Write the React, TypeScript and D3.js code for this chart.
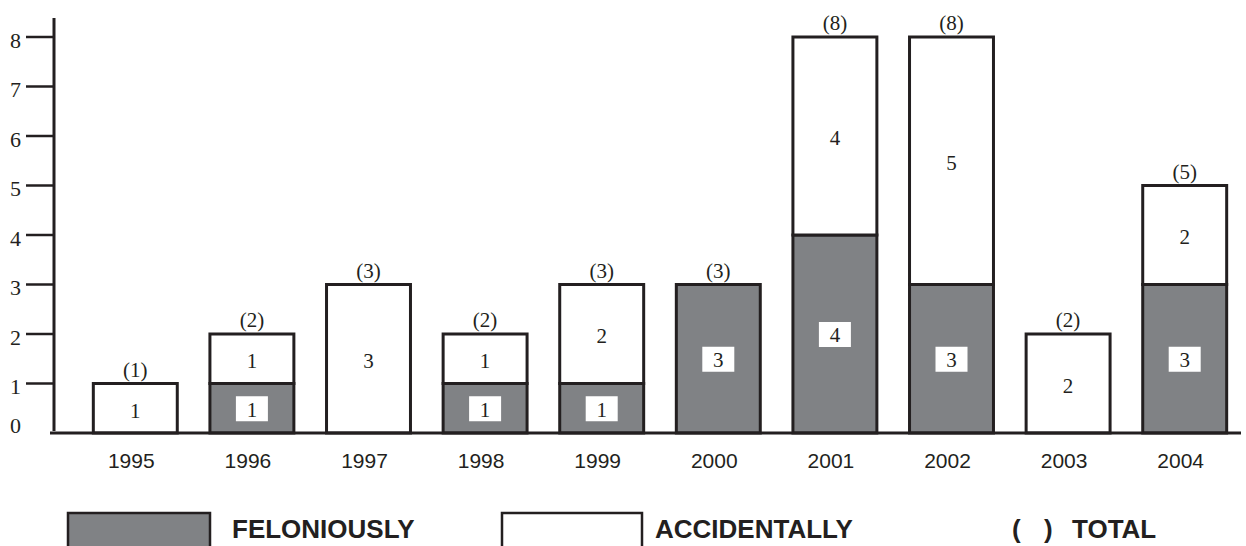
import React from "react";
import * as d3 from "d3";

const years = ["1995", "1996", "1997", "1998", "1999", "2000", "2001", "2002", "2003", "2004"];
const felonious = [0, 1, 0, 1, 1, 3, 4, 3, 0, 3];
const accidental = [1, 1, 3, 1, 2, 0, 4, 5, 2, 2];
const yTicks = [1, 2, 3, 4, 5, 6, 7, 8];

const W = 1246;
const H = 546;
const INK = "#231f20";
const GREY = "#808285";
const SERIF = "'Liberation Serif', 'Times New Roman', serif";
const SANS = "'Liberation Sans', Arial, sans-serif";

const App: React.FC = () => {
  const x = d3.scaleBand<string>().domain(years).range([77, 1243]).paddingInner(0.28).paddingOuter(0.14);
  const y = d3.scaleLinear().domain([0, 8]).range([433, 37]);
  const bw = x.bandwidth();

  return (
    <svg width={W} height={H} style={{ position: "absolute", left: 0, top: 0, background: "#fff" }}>
      {/* y axis */}
      <line x1={54} x2={54} y1={18} y2={431} stroke={INK} strokeWidth={3} />
      {yTicks.map((t) => (
        <g key={t}>
          <line x1={26} x2={54} y1={y(t)} y2={y(t)} stroke={INK} strokeWidth={2.5} />
          <text x={15.5} y={y(t) + 3} dy="0.35em" textAnchor="middle" fontFamily={SERIF} fontSize={22} fill={INK}>
            {t}
          </text>
        </g>
      ))}
      <text x={15.5} y={y(0) - 8} dy="0.35em" textAnchor="middle" fontFamily={SERIF} fontSize={22} fill={INK}>
        0
      </text>

      {/* bars */}
      {years.map((yr, i) => {
        const x0 = x(yr)!;
        const cx = x0 + bw / 2;
        const f = felonious[i];
        const a = accidental[i];
        const tot = f + a;
        return (
          <g key={yr}>
            {f > 0 && (
              <rect x={x0} y={y(f)} width={bw} height={y(0) - y(f)} fill={GREY} stroke={INK} strokeWidth={3} />
            )}
            {a > 0 && (
              <rect x={x0} y={y(tot)} width={bw} height={y(f) - y(tot)} fill="#fff" stroke={INK} strokeWidth={3} />
            )}
            {f > 0 && (
              <g>
                <rect x={cx - 16} y={y(f / 2) - 12} width={32} height={25} fill="#fff" />
                <text x={cx} y={y(f / 2) + 1} dy="0.35em" textAnchor="middle" fontFamily={SERIF} fontSize={21} fill={INK}>
                  {f}
                </text>
              </g>
            )}
            {a > 0 && (
              <text x={cx} y={y(f + a / 2) + 2} dy="0.35em" textAnchor="middle" fontFamily={SERIF} fontSize={21} fill={INK}>
                {a}
              </text>
            )}
            <text x={cx} y={y(tot) - 14} dy="0.35em" textAnchor="middle" fontFamily={SERIF} fontSize={21} fill={INK}>
              ({tot})
            </text>
            <text x={cx - 4} y={461} dy="0.35em" textAnchor="middle" fontFamily={SANS} fontSize={21} fill={INK}>
              {yr}
            </text>
          </g>
        );
      })}

      {/* x axis */}
      <line x1={50} x2={1241} y1={433} y2={433} stroke={INK} strokeWidth={3} />

      {/* legend */}
      <rect x={68} y={513} width={142} height={36} fill={GREY} stroke={INK} strokeWidth={2.5} />
      <text x={232} y={538} fontFamily={SANS} fontWeight="bold" fontSize={26} fill={INK}>
        FELONIOUSLY
      </text>
      <rect x={502} y={513} width={140} height={36} fill="#fff" stroke={INK} strokeWidth={2.5} />
      <text x={655} y={538} fontFamily={SANS} fontWeight="bold" fontSize={26} fill={INK}>
        ACCIDENTALLY
      </text>
      <text x={1012} y={538} fontFamily={SANS} fontWeight="bold" fontSize={26} fill={INK}>
        (
      </text>
      <text x={1044} y={538} fontFamily={SANS} fontWeight="bold" fontSize={26} fill={INK}>
        )
      </text>
      <text x={1072} y={538} fontFamily={SANS} fontWeight="bold" fontSize={26} fill={INK}>
        TOTAL
      </text>
    </svg>
  );
};

export default App;
